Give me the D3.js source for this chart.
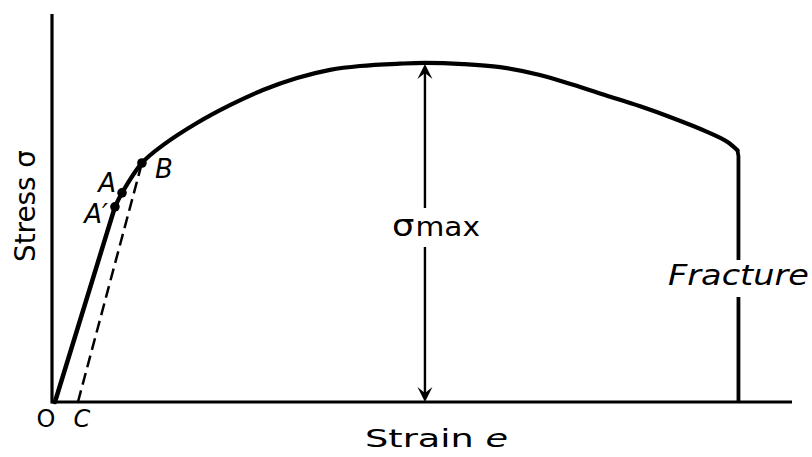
<!DOCTYPE html>
<html>
<head>
<meta charset="utf-8">
<script src="https://cdn.jsdelivr.net/npm/d3@7"></script>
<style>
  html, body { margin: 0; padding: 0; background: #fff; }
  svg { display: block; }
  text { font-family: "DejaVu Sans", "Liberation Sans", sans-serif; fill: #000; }
</style>
</head>
<body>
<svg id="chart" width="812" height="457"></svg>
<script>
// Engineering stress–strain curve (arbitrary units: strain 0–50, stress 0–100)
const strain = [0, 4.07, 4.55, 5.9, 7.33, 9.63, 11.87, 14.11, 16.42, 18.66, 20.69, 23.4, 25.1, 27.7, 30.2, 32.9, 35.1, 37.4, 39.7, 41.9, 44.2, 45.6, 46.3];
const stress = [0, 50.3, 53.9, 61.6, 66.2, 71.9, 76.5, 80.4, 83.5, 85.6, 86.6, 87.2, 87.4, 87.1, 86.3, 84.3, 81.8, 79.0, 76.2, 73.2, 69.7, 67.1, 64.9];

// Marked points on the curve (A', A = proportional/elastic limits, B = yield)
const markLabels = ["A\u2032", "A", "B"];
const markIndex = [1, 2, 3];

// Offset line: from C on the strain axis up to B
const offsetStrain = [1.56, 5.9];
const offsetStress = [0, 61.6];

// Axis titles and annotation texts
const xTitle = "Strain ";
const xSymbol = "e";
const yTitle = "Stress \u03C3";
const originLabel = "O";
const offsetLabel = "C";
const maxLabel = ["\u03C3", "max"];
const fractureLabel = "Fracture";

const svg = d3.select("#chart");

const x = d3.scaleLinear().domain([-0.2, 50]).range([52, 792]);
const y = d3.scaleLinear().domain([0, 100]).range([402, 14]);

// Axes drawn as plain lines (no ticks)
svg.append("line")
  .attr("x1", x(-0.2)).attr("x2", x(-0.2))
  .attr("y1", y(0) + 1.5).attr("y2", y(100))
  .attr("stroke", "#000").attr("stroke-width", 3.2);
svg.append("line")
  .attr("x1", x(-0.2)).attr("x2", x(50))
  .attr("y1", y(0)).attr("y2", y(0))
  .attr("stroke", "#000").attr("stroke-width", 2.8);

const pts = strain.map((s, i) => [s, stress[i]]);

// Elastic part: straight from O to A'
const straight = d3.line().x(d => x(d[0])).y(d => y(d[1]));
svg.append("path")
  .attr("d", straight(pts.slice(0, 2)))
  .attr("fill", "none").attr("stroke", "#000")
  .attr("stroke-width", 4.5).attr("stroke-linecap", "round");

// Rest of the curve, smooth from A' to the fracture point
const smooth = d3.line().x(d => x(d[0])).y(d => y(d[1])).curve(d3.curveCatmullRom.alpha(0.5));
svg.append("path")
  .attr("d", smooth(pts.slice(1)))
  .attr("fill", "none").attr("stroke", "#000")
  .attr("stroke-width", 4.2).attr("stroke-linejoin", "round").attr("stroke-linecap", "round");

// Fracture: vertical drop at the last strain, with a gap for its label
const last = pts[pts.length - 1];
const fx = x(last[0]) + 1;
const gapTop = 260, gapBottom = 297;
svg.append("path")
  .attr("d", `M${x(last[0])},${y(last[1])} L${fx},${y(last[1]) + 6} L${fx},${gapTop} M${fx},${gapBottom} L${fx},${y(0)}`)
  .attr("fill", "none").attr("stroke", "#000")
  .attr("stroke-width", 3.8).attr("stroke-linejoin", "round");
svg.append("text")
  .attr("x", 668).attr("y", 285)
  .attr("font-size", 28).attr("font-style", "italic")
  .attr("textLength", 141).attr("lengthAdjust", "spacingAndGlyphs")
  .text(fractureLabel);

// Offset (dashed) line
svg.append("line")
  .attr("x1", x(offsetStrain[0])).attr("y1", y(offsetStress[0]))
  .attr("x2", x(offsetStrain[1])).attr("y2", y(offsetStress[1]))
  .attr("stroke", "#000").attr("stroke-width", 2.5)
  .attr("stroke-dasharray", "12,6");

// Marked points
const marks = markIndex.map((i, k) => ({ s: strain[i], v: stress[i], label: markLabels[k] }));
svg.selectAll("circle.mark").data(marks).join("circle")
  .attr("class", "mark")
  .attr("cx", d => x(d.s)).attr("cy", d => y(d.v)).attr("r", 4.8)
  .attr("fill", "#000");

const labelOffsets = { "A\u2032": [-7, 16, "end"], "A": [-6, -1, "end"], "B": [13, 15, "start"] };
svg.selectAll("text.mark").data(marks).join("text")
  .attr("class", "mark")
  .attr("x", d => x(d.s) + labelOffsets[d.label][0])
  .attr("y", d => y(d.v) + labelOffsets[d.label][1])
  .attr("text-anchor", d => labelOffsets[d.label][2])
  .attr("font-size", 26).attr("font-style", "italic")
  .text(d => d.label);

// σmax double arrow from the strain axis up to the peak of the curve
const peakIdx = d3.maxIndex(stress);
const ax = x(strain[peakIdx]);
const topY = y(stress[peakIdx]) + 1;
const botY = y(0);
const labelTop = 208, labelBottom = 247;
svg.append("path")
  .attr("d", `M${ax},${topY + 8} L${ax},${labelTop} M${ax},${labelBottom} L${ax},${botY - 8}`)
  .attr("stroke", "#000").attr("stroke-width", 2.4).attr("fill", "none");
const head = (tipY, dir) => {
  const L = 15, W = 7.5, N = 9;
  return `M${ax},${tipY} L${ax + W},${tipY + dir * L} L${ax},${tipY + dir * N} L${ax - W},${tipY + dir * L} Z`;
};
svg.append("path").attr("d", head(topY, 1)).attr("fill", "#000");
svg.append("path").attr("d", head(botY, -1)).attr("fill", "#000");

const mt = svg.append("text").attr("x", ax - 33).attr("y", 236)
  .attr("textLength", 88).attr("lengthAdjust", "spacingAndGlyphs");
mt.append("tspan").attr("font-size", 31).text(maxLabel[0]);
mt.append("tspan").attr("font-size", 26).attr("dx", 1).text(maxLabel[1]);

// Axis titles
const xt = svg.append("text")
  .attr("x", 365).attr("y", 447)
  .attr("font-size", 25)
  .attr("textLength", 143).attr("lengthAdjust", "spacingAndGlyphs");
xt.append("tspan").text(xTitle);
xt.append("tspan").attr("font-style", "italic").text(xSymbol);

svg.append("text")
  .attr("transform", "translate(35,262) rotate(-90)")
  .attr("font-size", 29)
  .attr("textLength", 112).attr("lengthAdjust", "spacingAndGlyphs")
  .text(yTitle);

// Origin and offset point labels
svg.append("text").attr("x", x(0) - 9).attr("y", 427)
  .attr("text-anchor", "middle").attr("font-size", 24).text(originLabel);
svg.append("text").attr("x", x(offsetStrain[0]) + 4).attr("y", 427)
  .attr("text-anchor", "middle").attr("font-size", 24).attr("font-style", "italic").text(offsetLabel);
</script>
</body>
</html>
